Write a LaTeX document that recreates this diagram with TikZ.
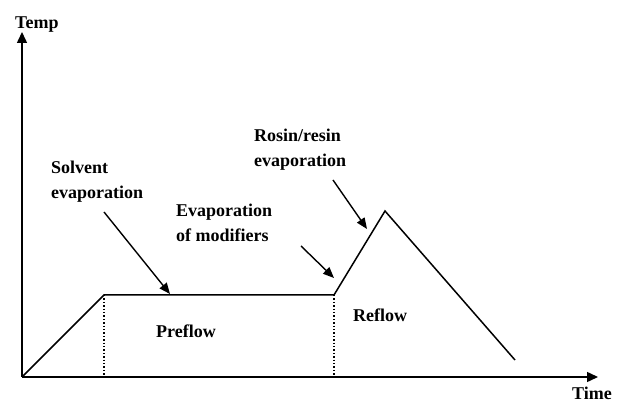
\documentclass[tikz,border=0pt]{standalone}
\usepackage{fontspec}
\setmainfont{Liberation Serif}
\usetikzlibrary{arrows.meta}
\begin{document}
\begin{tikzpicture}[x=1pt,y=-1pt,
  lbl/.style={font=\fontsize{18}{25}\selectfont\bfseries, inner sep=0pt, align=left, anchor=base west},
  axis/.style={line width=1.5pt, -{Triangle[length=11pt,width=10pt]}},
  curve/.style={line width=1.5pt, line join=miter},
  guide/.style={line width=1.4pt, dotted},
  callout/.style={line width=1.4pt, -{Triangle[length=11pt,width=9pt]}}]
\useasboundingbox (0,0) rectangle (622,403);
% axes
\coordinate (O) at (22,377);
\coordinate (ytip) at (22,32);
\coordinate (xtip) at (598,377);
\draw[axis] (O) -- (ytip);
\draw[axis] (O) -- (xtip);
\node[lbl] (temp) at (15,29) {Temp};
\node[lbl] (time) at (572,400) {Time};
% profile
\coordinate (p1) at (104,295);
\coordinate (p2) at (334,295);
\coordinate (pk) at (385,211);
\coordinate (pe) at (515,360);
\draw[curve] (O) -- (p1) -- (p2) -- (pk) -- (pe);
% dotted guides
\coordinate (d1) at (104,377);
\coordinate (d2) at (334,377);
\draw[guide] (p1) -- (d1);
\draw[guide] (p2) -- (d2);
% zone labels
\node[lbl] (pre) at (156,338) {Preflow};
\node[lbl] (re) at (353,322) {Reflow};
% callouts
\node[lbl] (solv) at (51,199) {Solvent\\evaporation};
\node[lbl] (mod) at (176,242) {Evaporation\\of modifiers};
\node[lbl] (ros) at (254,167) {Rosin/resin\\evaporation};
\coordinate (s0) at (104,212);
\coordinate (s1) at (170,294);
\coordinate (m0) at (301,246);
\coordinate (m1) at (334,278);
\coordinate (r0) at (333,180);
\coordinate (r1) at (367,229);
\draw[callout] (s0) -- (s1);
\draw[callout] (m0) -- (m1);
\draw[callout] (r0) -- (r1);
\end{tikzpicture}
\end{document}
